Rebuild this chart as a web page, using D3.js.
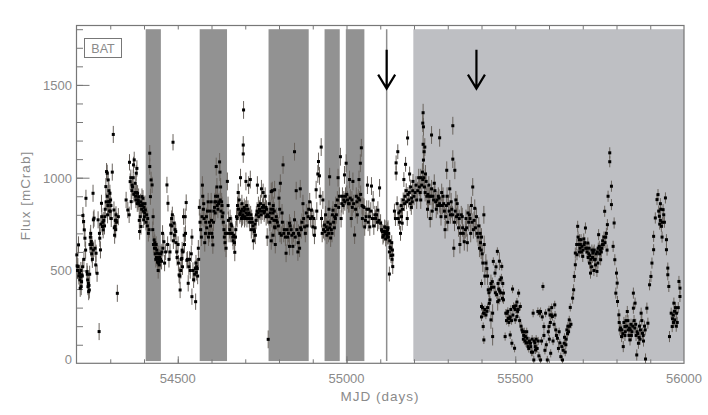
<!DOCTYPE html>
<html><head><meta charset="utf-8">
<script src="https://cdn.jsdelivr.net/npm/d3@7"></script>
<style>html,body{margin:0;padding:0;background:#fff}svg{display:block}text{font-family:"Liberation Sans",Arial,sans-serif;fill:#8a8a8a}</style>
</head><body><svg id="c" width="708" height="415"></svg>
<script>
const darkBands=[[54405,54450],[54565,54646],[54769,54888],[54935,54980],[54998,55053]];
const lightBand=[55198,56000];
const markerLine=55119;
const arrowMjd=[55119,55385];
const xTicks=[54500,55000,55500,56000];
const yTicks=[0,500,1000,1500];
const seg1=[[54201,584],[54202,525],[54204,521],[54206,638],[54209,485],[54211,404],[54212,467],[54214,413],[54216,476],[54218,520],[54219,796],[54221,764],[54222,560],[54223,719],[54225,674],[54227,610],[54228,889],[54231,494],[54233,449],[54234,413],[54236,386],[54238,395],[54239,480],[54240,640],[54242,700],[54244,656],[54245,590],[54247,560],[54249,916],[54250,773],[54252,782],[54250,610],[54255,620],[54257,530],[54258,593],[54261,485],[54264,773],[54267,171],[54269,674],[54271,611],[54274,862],[54277,737],[54279,719],[54284,790],[54287,952],[54289,1033],[54291,1024],[54294,988],[54297,871],[54299,916],[54301,880],[54306,1030],[54309,1233],[54311,826],[54314,737],[54317,800],[54321,377],[54324,790],[54291,900],[54293,850],[54296,930],[54300,820],[54303,780],[54313,690],[54315,770],[54319,760],[54203,500],[54207,470],[54210,450],[54213,500],[54215,440],[54217,470],[54232,480],[54235,430],[54237,420],[54241,680],[54243,620],[54246,640],[54268,700],[54272,750],[54275,790],[54278,760],[54281,770],[54283,740],[54285,830],[54288,870],[54292,800],[54295,870],[54298,820],[54302,850],[54312,730],[54316,720],[54318,770]];
const seg2=[[54347,880],[54352,826],[54357,1083],[54359,979],[54362,871],[54365,960],[54369,1069],[54371,1096],[54374,970],[54377,1024],[54379,1050],[54381,916],[54384,898],[54387,710],[54389,790],[54391,737],[54394,898],[54397,889],[54399,773],[54404,826],[54356,800],[54361,1000],[54364,930],[54368,1000],[54373,920],[54376,880],[54380,860],[54383,880],[54386,770],[54393,830],[54396,860],[54401,790],[54403,860],[54406,760],[54411,780],[54415,720],[54417,1132],[54417,1060],[54421,988],[54424,961],[54419,898],[54427,790],[54430,665],[54432,650],[54434,620],[54436,640],[54438,610],[54439,593],[54441,560],[54442,500],[54444,590],[54446,570],[54449,560],[54452,550],[54455,700],[54459,655],[54461,540],[54464,600],[54468,961],[54471,862],[54470,640],[54474,560],[54477,600],[54479,745],[54482,780],[54484,800],[54486,1191],[54489,755],[54492,720],[54494,710],[54497,600],[54501,640],[54504,476],[54507,395],[54509,500],[54512,565],[54514,520],[54517,790],[54520,640],[54522,790],[54525,866],[54527,555],[54529,560],[54531,431],[54533,520],[54537,500],[54542,359],[54542,680],[54547,450],[54553,332],[54554,540],[54556,520],[54559,470],[54561,620],[54564,840],[54366,950],[54370,910],[54375,900],[54378,920],[54382,870],[54385,860],[54388,850],[54390,870],[54392,850],[54395,850],[54398,820],[54400,840],[54402,810],[54408,800],[54410,740],[54413,700],[54426,720],[54428,640],[54431,620],[54433,590],[54435,560],[54437,570],[54440,545],[54443,540],[54445,530],[54447,550],[54450,590],[54453,600],[54456,620],[54480,700],[54483,740],[54487,660],[54490,690],[54495,650],[54498,570],[54502,540],[54506,470],[54510,560],[54513,610],[54515,600],[54519,690],[54523,700],[54535,560],[54540,590],[54545,500],[54550,480],[54552,510],[54555,490],[54558,510],[54562,560]];
const seg3=[[54566,760],[54570,680],[54573,960],[54574,900],[54576,830],[54578,780],[54580,650],[54583,760],[54585,790],[54588,820],[54590,870],[54593,700],[54596,820],[54599,870],[54601,700],[54604,638],[54607,820],[54610,870],[54612,900],[54614,1060],[54616,950],[54618,900],[54621,860],[54624,1085],[54625,1030],[54627,950],[54630,870],[54632,790],[54635,760],[54638,680],[54640,650],[54643,620],[54647,980],[54649,850],[54652,700],[54655,780],[54658,750],[54660,740],[54663,680],[54666,690],[54669,598],[54671,680],[54674,790],[54677,850],[54679,920],[54682,880],[54684,800],[54686,1000],[54688,820],[54690,860],[54692,790],[54694,1176],[54694,1128],[54695,1365],[54697,840],[54699,790],[54702,980],[54704,850],[54707,800],[54710,960],[54712,780],[54715,990],[54718,720],[54721,760],[54724,660],[54727,710],[54730,690],[54733,800],[54736,960],[54739,850],[54742,830],[54745,860],[54748,940],[54750,820],[54753,920],[54756,810],[54759,900],[54762,790],[54765,680],[54768,129],[54771,860],[54774,810],[54777,660],[54780,930],[54783,850],[54786,820],[54789,640],[54792,770],[54568,720],[54572,790],[54577,860],[54582,700],[54586,730],[54591,680],[54594,760],[54597,740],[54600,770],[54603,680],[54606,760],[54609,840],[54611,810],[54613,870],[54617,850],[54619,830],[54622,870],[54626,880],[54628,820],[54631,850],[54634,810],[54637,720],[54641,700],[54645,700],[54650,770],[54654,720],[54657,700],[54661,700],[54664,660],[54668,650],[54672,720],[54676,780],[54680,830],[54685,810],[54689,780],[54691,830],[54693,800],[54696,820],[54698,780],[54700,830],[54703,810],[54705,780],[54708,830],[54711,810],[54713,760],[54716,800],[54719,780],[54723,740],[54726,720],[54729,750],[54732,770],[54735,820],[54738,810],[54740,790],[54744,820],[54747,800],[54751,840],[54754,850],[54757,820],[54760,840],[54763,830],[54766,800],[54770,790],[54773,760],[54776,830],[54779,780],[54782,810],[54785,770],[54788,730]];
const seg4=[[54777,925],[54787,935],[54800,890],[54804,970],[54812,1069],[54846,1140],[54851,930],[54863,940],[54782,830],[54792,790],[54802,830],[54809,810],[54821,593],[54831,630],[54841,630],[54856,600],[54861,620],[54782,690],[54787,735],[54826,680],[54831,755],[54846,773],[54866,720],[54871,860],[54876,735],[54881,810],[54891,870],[54896,825],[54900,735],[54905,690],[54910,935],[54915,1020],[54917,1087],[54925,1165],[54920,1010],[54922,900],[54930,880],[54935,745],[54940,735],[54945,760],[54950,1005],[54953,675],[54960,825],[54965,790],[54975,1000],[54979,900],[54982,1113],[54984,780],[54994,1015],[54999,1078],[55001,910],[55009,990],[55014,780],[55019,980],[55024,691],[55029,900],[55037,990],[55041,1078],[55044,1161],[55049,845],[55054,735],[55062,960],[55069,735],[55074,955],[55079,880],[55086,780],[55093,825],[55098,945],[55101,755],[54795,760],[54810,760],[54816,720],[54836,720],[54858,700],[54886,790],[54903,780],[54928,700],[54938,800],[54948,830],[54958,800],[54968,850],[54973,880],[54990,850],[55006,860],[55016,880],[55032,800],[55047,780],[55058,790],[55066,830],[55084,800],[54798,740],[54803,700],[54807,690],[54814,700],[54819,680],[54824,720],[54828,700],[54833,740],[54838,690],[54843,700],[54848,680],[54853,720],[54857,650],[54860,690],[54864,730],[54868,760],[54873,780],[54878,700],[54883,740],[54888,830],[54893,780],[54898,790],[54907,730],[54912,820],[54926,780],[54932,720],[54936,710],[54942,690],[54944,720],[54947,700],[54950,730],[54952,750],[54955,720],[54957,700],[54962,760],[54964,730],[54967,780],[54970,800],[54977,840],[54986,860],[54988,900],[54992,880],[54995,870],[54997,900],[55003,880],[55008,860],[55011,890],[55017,840],[55021,860],[55027,830],[55031,870],[55035,890],[55039,880],[55042,910],[55046,850],[55052,840],[55056,770],[55060,830],[55064,760],[55068,790],[55072,820],[55077,780],[55081,740],[55089,800],[55092,760],[55096,770],[55104,720]];
const seg5=[[55108,680],[55113,735],[55118,700],[55121,680],[55124,680],[55127,600],[55129,625],[55132,580],[55127,481],[55137,521],[55137,583],[55142,820],[55147,1025],[55152,1140],[55147,1080],[55155,810],[55160,700],[55165,755],[55170,990],[55175,1072],[55181,1214],[55178,870],[55180,780],[55187,1020],[55192,840],[55197,980],[55112,710],[55116,670],[55122,720],[55134,650],[55145,780],[55150,860],[55157,760],[55162,850],[55168,880],[55173,900],[55182,910],[55190,950],[55195,870],[55106,710],[55110,690],[55114,700],[55117,730],[55119,710],[55120,690],[55123,730],[55125,700],[55128,660],[55131,620],[55135,560],[55136,610],[55153,780],[55159,820],[55163,790],[55166,830],[55172,860],[55177,930],[55184,880],[55186,920],[55189,860],[55193,890],[55196,930]];
const seg6=[[55227,1350],[55226,1294],[55228,1274],[55252,1230],[55276,1215],[55315,1280],[55227,1180],[55232,1165],[55230,1140],[55228,1095],[55315,1100],[55297,1040],[55321,1040],[55200,900],[55206,960],[55214,1000],[55220,1000],[55225,1030],[55229,1000],[55234,1020],[55238,900],[55244,960],[55248,780],[55254,820],[55260,970],[55266,830],[55272,900],[55280,790],[55286,900],[55292,720],[55300,760],[55306,940],[55310,870],[55318,620],[55324,880],[55330,800],[55338,700],[55343,790],[55349,655],[55358,650],[55364,800],[55368,700],[55374,950],[55380,835],[55385,790],[55392,740],[55397,650],[55402,590],[55407,800],[55413,540],[55418,470],[55428,430],[55423,323],[55433,270],[55428,234],[55433,144],[55448,332],[55453,550],[55220,880],[55240,830],[55256,900],[55264,870],[55276,860],[55284,850],[55296,850],[55302,860],[55314,800],[55322,820],[55328,860],[55336,640],[55346,700],[55354,780],[55360,810],[55370,850],[55376,720],[55396,700],[55400,680],[55408,640],[55416,510],[55203,920],[55208,880],[55211,930],[55216,950],[55218,920],[55223,960],[55226,990],[55231,950],[55233,920],[55236,980],[55241,910],[55243,870],[55246,900],[55250,900],[55252,940],[55258,880],[55262,930],[55268,880],[55270,850],[55274,890],[55278,850],[55282,920],[55288,860],[55290,820],[55294,790],[55298,900],[55304,820],[55308,800],[55312,830],[55320,760],[55326,790],[55332,730],[55334,780],[55340,800],[55344,730],[55352,720],[55356,730],[55362,760],[55366,780],[55372,760],[55378,770],[55382,730],[55387,700],[55390,680],[55394,620],[55399,610],[55404,540],[55410,470]];
const seg7=[[55400,430],[55400,306],[55400,250],[55405,198],[55407,126],[55420,396],[55425,342],[55435,549],[55440,486],[55447,603],[55455,450],[55460,522],[55465,378],[55465,342],[55470,144],[55480,243],[55485,153],[55490,108],[55492,400],[55495,306],[55498,81],[55510,378],[55515,306],[55500,234],[55505,252],[55520,180],[55530,144],[55535,135],[55545,108],[55555,18],[55553,270],[55560,72],[55567,279],[55575,18],[55575,279],[55582,414],[55585,198],[55595,18],[55600,288],[55600,198],[55605,54],[55610,252],[55617,315],[55620,180],[55625,135],[55635,36],[55640,18],[55645,108],[55653,180],[55660,234],[55663,301],[55408,270],[55416,280],[55430,410],[55443,520],[55452,340],[55462,350],[55476,270],[55483,240],[55487,290],[55500,290],[55507,280],[55513,230],[55525,150],[55538,90],[55548,60],[55550,130],[55558,110],[55563,80],[55570,40],[55578,120],[55588,70],[55592,100],[55603,260],[55612,120],[55628,80],[55632,110],[55648,60],[55650,100],[55656,200],[55580,250],[55572,270],[55590,270],[55608,300],[55403,300],[55406,270],[55410,290],[55413,260],[55418,300],[55422,380],[55427,400],[55432,440],[55437,410],[55441,380],[55445,370],[55449,430],[55451,400],[55454,390],[55457,380],[55459,460],[55463,430],[55472,270],[55474,230],[55478,280],[55481,220],[55485,250],[55489,230],[55493,260],[55497,300],[55502,310],[55505,330],[55509,290],[55517,200],[55522,170],[55524,130],[55527,170],[55529,120],[55532,110],[55534,170],[55536,110],[55540,80],[55542,120],[55546,90],[55552,60],[55556,120],[55559,90],[55562,130],[55565,80],[55568,120],[55585,150],[55598,170],[55601,130],[55604,220],[55607,260],[55615,210],[55618,260],[55622,150],[55630,170],[55638,90],[55642,70],[55646,140],[55651,130],[55655,160],[55658,170],[55661,200],[55665,210]];
const seg8=[[55670,351],[55673,396],[55675,468],[55678,531],[55678,594],[55683,585],[55685,738],[55690,666],[55695,666],[55700,576],[55708,729],[55715,648],[55723,486],[55730,594],[55735,558],[55742,495],[55747,693],[55753,558],[55758,639],[55765,819],[55773,747],[55775,900],[55780,1134],[55780,1086],[55785,954],[55785,855],[55790,630],[55793,756],[55795,558],[55800,486],[55802,432],[55798,378],[55803,333],[55807,261],[55810,180],[55815,144],[55820,90],[55825,198],[55832,279],[55835,180],[55840,126],[55850,378],[55855,324],[55850,297],[55860,45],[55865,108],[55873,270],[55877,162],[55885,180],[55886,23],[55890,297],[55893,216],[55898,423],[55902,468],[55905,540],[55910,612],[55910,684],[55915,783],[55920,882],[55923,909],[55927,792],[55933,738],[55938,828],[55945,891],[55948,666],[55948,612],[55952,513],[55952,477],[55955,414],[55957,144],[55965,198],[55970,324],[55973,234],[55978,270],[55985,441],[55988,405],[55988,360],[55690,600],[55693,640],[55698,630],[55704,640],[55712,620],[55718,590],[55720,540],[55726,520],[55733,500],[55738,530],[55745,540],[55750,590],[55755,600],[55761,640],[55768,680],[55772,610],[55825,150],[55828,230],[55838,190],[55844,150],[55848,200],[55858,150],[55868,200],[55870,130],[55880,120],[55930,770],[55935,680],[55940,800],[55930,860],[55968,260],[55975,300],[55980,220],[55682,640],[55686,680],[55688,640],[55692,620],[55696,600],[55701,610],[55703,670],[55706,650],[55709,620],[55713,600],[55716,570],[55719,620],[55721,580],[55724,560],[55727,610],[55729,570],[55731,600],[55734,610],[55737,560],[55740,590],[55743,600],[55746,620],[55749,630],[55752,610],[55756,620],[55759,660],[55763,680],[55766,650],[55770,700],[55808,220],[55812,190],[55816,180],[55819,160],[55822,220],[55826,170],[55830,200],[55834,230],[55837,150],[55841,180],[55843,210],[55846,170],[55852,230],[55854,190],[55857,210],[55861,170],[55863,160],[55867,140],[55871,180],[55875,230],[55879,150],[55883,200],[55925,820],[55928,750],[55931,830],[55936,760],[55942,760],[55962,270],[55966,240],[55969,220],[55972,280],[55977,200],[55983,300]];
const segments=[[seg1,46],[seg2,44],[seg3,48],[seg4,48],[seg5,40],[seg6,48],[seg7,22],[seg8,30]];

const W=708,H=415,L=76.5,R=684,T=25.5,B=363.3;
const x=d3.scaleLinear().domain([54200,56000]).range([L,R]);
const y=d3.scaleLinear().domain([0,1820]).range([B,T]);
const s=d3.select('#c');
const bandTop=y(1800),bandBot=y(12);
s.append('g').selectAll('rect').data(darkBands).join('rect')
 .attr('x',d=>x(d[0])).attr('width',d=>x(d[1])-x(d[0])).attr('y',bandTop).attr('height',bandBot-bandTop).attr('fill','#929292');
s.append('rect').attr('x',x(lightBand[0])).attr('width',x(lightBand[1])-x(lightBand[0])).attr('y',bandTop).attr('height',bandBot-bandTop).attr('fill','#bebfc3');
s.append('line').attr('x1',x(markerLine)).attr('x2',x(markerLine)).attr('y1',bandTop).attr('y2',bandBot).attr('stroke','#8e8e8e').attr('stroke-width',1.5);

const color='#777';
function style(g){g.selectAll('path').remove();g.selectAll('line').attr('stroke',color);}
s.append('g').attr('transform',`translate(0,${B})`).call(d3.axisBottom(x).tickValues(d3.range(54300,56000,100)).tickFormat('').tickSize(-4)).call(style);
s.append('g').attr('transform',`translate(0,${B})`).call(d3.axisBottom(x).tickValues(xTicks.slice(0,3)).tickSize(-7).tickFormat('')).call(style);
s.append('g').attr('transform',`translate(0,${T})`).call(d3.axisTop(x).tickValues(d3.range(54300,56000,100)).tickFormat('').tickSize(-4)).call(style);
s.append('g').attr('transform',`translate(${L},0)`).call(d3.axisLeft(y).tickValues(d3.range(100,1900,100)).tickSize(-6.5).tickFormat('')).call(style);
s.append('g').attr('transform',`translate(${L},0)`).call(d3.axisLeft(y).tickValues(yTicks.slice(1)).tickSize(-13).tickFormat('')).call(style);
s.append('rect').attr('x',L).attr('y',T).attr('width',R-L).attr('height',B-T).attr('fill','none').attr('stroke',color).attr('stroke-width',1.2);

const pts=s.append('g');
segments.forEach(([seg,e])=>{
 pts.append('g').selectAll('line').data(seg).join('line')
  .attr('x1',d=>x(d[0])).attr('x2',d=>x(d[0])).attr('y1',d=>y(Math.min(d[1]+e,1800))).attr('y2',d=>y(Math.max(d[1]-e,0)))
  .attr('stroke','#6a645e').attr('stroke-width',1);
});
segments.forEach(([seg])=>{
 pts.append('g').selectAll('rect').data(seg).join('rect')
  .attr('x',d=>x(d[0])-1.5).attr('y',d=>y(d[1])-1.5).attr('width',3).attr('height',3).attr('fill','#000');
});

const arrowTop=y(1690),arrowTip=y(1480);
arrowMjd.forEach(m=>{
 const a=x(m);
 s.append('path').attr('d',`M${a},${arrowTop}V${arrowTip}M${a-8.5},${arrowTip-14}L${a},${arrowTip}L${a+8.5},${arrowTip-14}`)
  .attr('fill','none').attr('stroke','#000').attr('stroke-width',2.2);
});

s.append('g').selectAll('text').data(yTicks).join('text').attr('x',72).attr('y',d=>y(d)+(d?5:1)).attr('text-anchor','end').attr('font-size',13).text(d=>d);
s.append('g').selectAll('text').data(xTicks).join('text').attr('x',d=>x(d)).attr('y',383).attr('text-anchor','middle').attr('font-size',13).text(d=>d);
s.append('text').attr('x',380).attr('y',401).attr('text-anchor','middle').attr('font-size',13.5).attr('letter-spacing',1).text('MJD (days)');
s.append('text').attr('transform','translate(30,195.5) rotate(-90)').attr('text-anchor','middle').attr('font-size',13.5).attr('letter-spacing',1).text('Flux [mCrab]');
s.append('rect').attr('x',84.5).attr('y',38.5).attr('width',37).attr('height',19).attr('fill','#fff').attr('stroke',color);
s.append('text').attr('x',103).attr('y',52.5).attr('text-anchor','middle').attr('font-size',12.5).text('BAT');
</script></body></html>
